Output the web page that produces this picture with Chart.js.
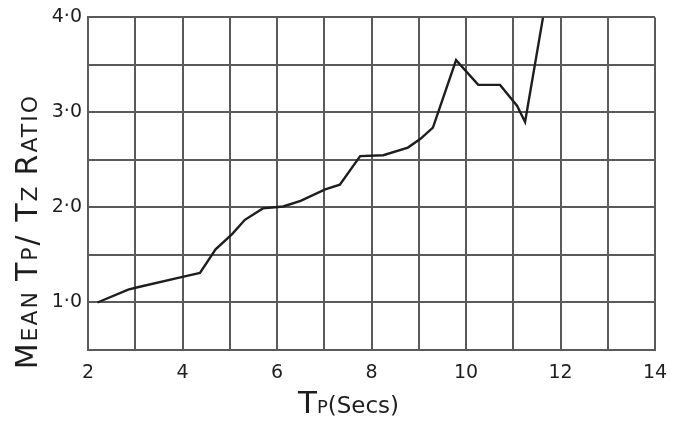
<!DOCTYPE html>
<html>
<head>
<meta charset="utf-8">
<script src="https://cdn.jsdelivr.net/npm/chart.js@4/dist/chart.umd.min.js"></script>
<style>
  html, body { margin: 0; padding: 0; background: #fff; }
  #wrap { width: 682px; height: 421px; }
</style>
</head>
<body>
<div id="wrap"><canvas id="c" width="682" height="421"></canvas></div>
<script>
// Data
const tpSecs = [2.2, 2.85, 3.05, 4.0, 4.37, 4.7, 5.05, 5.32, 5.7, 6.13, 6.5, 7.02, 7.33, 7.76, 8.25, 8.77, 9.03, 9.3, 9.79, 10.26, 10.72, 11.08, 11.25, 11.63];
const tpTzRatio = [1.0, 1.135, 1.16, 1.27, 1.31, 1.56, 1.72, 1.87, 1.99, 2.01, 2.07, 2.19, 2.24, 2.54, 2.55, 2.63, 2.72, 2.84, 3.55, 3.29, 3.29, 3.07, 2.9, 4.0];
const xTickLabels = ['2', '4', '6', '8', '10', '12', '14'];
const yTickLabels = ['1·0', '2·0', '3·0', '4·0'];
const xTitleParts = ['T', 'P', '(Secs)'];
const yTitleParts = ['M', 'EAN ', 'T', 'P', '/ ', 'T', 'Z ', 'R', 'ATIO'];

const points = tpSecs.map((x, i) => ({ x: x, y: tpTzRatio[i] }));

const FONT = '"DejaVu Sans", sans-serif';
const INK = '#1e1e1e';
const GRID = '#5a5a5a';

function drawRuns(ctx, parts, sizes, spacing) {
  let widths = parts.map((t, i) => {
    ctx.font = sizes[i] + 'px ' + FONT;
    return ctx.measureText(t).width + spacing * t.length;
  });
  const total = widths.reduce((a, b) => a + b, 0);
  let x = -total / 2;
  parts.forEach((t, i) => {
    ctx.font = sizes[i] + 'px ' + FONT;
    ctx.letterSpacing = spacing + 'px';
    ctx.fillText(t, x, 0);
    x += widths[i];
  });
}

const titlePlugin = {
  id: 'titles',
  afterDraw(chart) {
    const { ctx, chartArea: a } = chart;
    ctx.save();
    ctx.fillStyle = INK;
    ctx.textBaseline = 'alphabetic';
    ctx.textAlign = 'left';
    // x title
    ctx.save();
    ctx.translate((a.left + a.right) / 2 - 23, a.bottom + 63);
    drawRuns(ctx, xTitleParts, [31, 18, 23], 0);
    ctx.restore();
    // y title
    ctx.save();
    ctx.translate(a.left - 51, (a.top + a.bottom) / 2 + 48);
    ctx.rotate(-Math.PI / 2);
    drawRuns(ctx, yTitleParts, [30, 22, 30, 22, 30, 30, 22, 30, 22], 2);
    ctx.restore();
    ctx.restore();
  }
};

new Chart(document.getElementById('c'), {
  type: 'scatter',
  data: {
    datasets: [{
      data: points,
      showLine: true,
      borderColor: INK,
      borderWidth: 2.4,
      pointRadius: 0,
      tension: 0,
      fill: false
    }]
  },
  options: {
    responsive: false,
    animation: false,
    events: [],
    layout: { padding: { top: 16, right: 27, left: 0, bottom: 0 } },
    plugins: { legend: { display: false }, tooltip: { enabled: false } },
    scales: {
      x: {
        type: 'linear',
        min: 2, max: 14,
        border: { display: true, color: GRID, width: 2 },
        grid: { color: GRID, lineWidth: 2, drawTicks: false },
        ticks: {
          stepSize: 1,
          autoSkip: false,
          maxRotation: 0,
          padding: 12,
          color: INK,
          font: { family: FONT, size: 19 },
          callback: (v) => (v % 2 === 0 ? xTickLabels[(v - 2) / 2] : '')
        },
        afterFit: (s) => { s.height = 71; }
      },
      y: {
        type: 'linear',
        min: 0.5, max: 4.0,
        border: { display: true, color: GRID, width: 2 },
        grid: { color: GRID, lineWidth: 2, drawTicks: false },
        ticks: {
          stepSize: 0.5,
          autoSkip: false,
          padding: 6,
          color: INK,
          font: { family: FONT, size: 19 },
          callback: (v) => (Number.isInteger(v) ? yTickLabels[v - 1] : '')
        },
        afterFit: (s) => { s.width = 88; }
      }
    }
  },
  plugins: [titlePlugin]
});
</script>
</body>
</html>
